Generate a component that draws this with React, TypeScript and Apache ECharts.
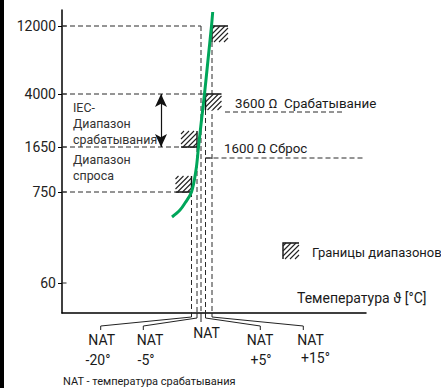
import React, { useEffect, useRef } from "react";
import * as echarts from "echarts";

// Schematic resistance axis (Ω): tick labels and their schematic heights
const resistanceTicks = ["60", "750", "1650", "4000", "12000"];
const resistanceLevels = [30, 121, 166, 219, 287];

// NAT reference temperatures (schematic temperature axis)
const natOffsets = ["-20°", "-5°", "", "+5°", "+15°"];
const natLevels = [129.5, 135, 139, 143.5, 150];

// PTC characteristic curve (schematic temperature, schematic resistance)
const curveT = [110, 118, 123, 129.5, 134, 136.5, 139.5, 142.5, 146, 149.5, 150.7];
const curveR = [96, 103, 110, 121, 143, 166, 193, 219, 253, 287, 301];

// Range boundaries: NAT index, resistance index, direction (1 = hatch below-right, -1 = above-left)
const boundNat = [4, 3, 1, 0];
const boundRes = [4, 3, 2, 1];
const boundDir = [1, 1, -1, -1];

// Resistance guide lines: which NAT line each resistance level runs to
const guideRes = [4, 3, 2, 1];
const guideNat = [2, 3, 1, 0];
// Top of each NAT vertical guide (resistance index)
const natTopRes = [1, 2, 4, 3, 4];

// Trip / reset thresholds
const thresholdLabels = ["3600 Ω  Срабатывание", "1600 Ω Сброс"];
const thresholdLevels = [201, 155];
const thresholdStart = [163, 143.5];
const thresholdEnd = [281, 301];

const FONT = "Roboto, 'Open Sans', sans-serif";
const INK = "#1a1a1a";

function hatchSegments(L: number, T: number, s: number, step: number) {
  const segs: number[][] = [];
  for (let c = L + T + 3; c < L + T + 2 * s - 1; c += step) {
    const x1 = Math.max(L, c - (T + s));
    const x2 = Math.min(L + s, c - T);
    if (x2 > x1) segs.push([x1, c - x1, x2, c - x2]);
  }
  return segs;
}

export default function App() {
  const ref = useRef<HTMLDivElement>(null);
  useEffect(() => {
    if (!ref.current) return;
    const chart = echarts.init(ref.current, null, { renderer: "svg" });

    const guides: number[][] = [];
    guideRes.forEach((ri, k) => {
      guides.push([0, resistanceLevels[ri], natLevels[guideNat[k]], resistanceLevels[ri], 1]);
    });
    natLevels.forEach((x, i) => {
      guides.push([x, resistanceLevels[natTopRes[i]], x, 0, 1]);
    });
    thresholdLevels.forEach((y, i) => {
      guides.push([thresholdStart[i], y, thresholdEnd[i], y, 1]);
    });
    guides.push([natLevels[3], thresholdLevels[1], natLevels[4], thresholdLevels[1], 0]);
    resistanceLevels.forEach((y) => guides.push([0, y, 4.5, y, 0]));

    const bounds = boundNat.map((ni, k) => [natLevels[ni], resistanceLevels[boundRes[k]], boundDir[k]]);

    const natLabelX = [39.7, 88, 144.5, 198, 248.5];
    const degLabelX = [36, 84, 0, 199, 253.5];
    const elbowX = [38.7, 81.3, 0, 198.3, 241.3];
    const bendY = [-4, -5, -9, -5, -4];

    const legend = hatchSegments(283, 243, 16, 5);

    chart.setOption({
      animation: false,
      grid: { left: 62, top: 10, right: 75, bottom: 75 },
      xAxis: {
        type: "value",
        min: 0,
        max: 304,
        axisLine: { show: true, onZero: false, lineStyle: { color: "#000", width: 1.5 } },
        axisTick: { show: false },
        axisLabel: { show: false },
        splitLine: { show: false },
      },
      yAxis: {
        type: "value",
        min: 0,
        max: 303,
        axisLine: { show: true, onZero: false, lineStyle: { color: "#000", width: 1.5 } },
        axisTick: { show: true, customValues: resistanceLevels, length: 4, lineStyle: { color: "#000", width: 1 } },
        axisLabel: {
          customValues: resistanceLevels,
          formatter: (v: number) => {
            const i = resistanceLevels.indexOf(v);
            return i >= 0 ? resistanceTicks[i] : "";
          },
          fontFamily: FONT,
          fontSize: 14,
          color: "#222",
          margin: 6,
        },
        splitLine: { show: false },
      },
      series: [
        {
          type: "custom",
          name: "guides",
          clip: false,
          z: 2,
          data: guides,
          encode: { x: [0, 2], y: [1, 3] },
          renderItem: (_p: any, api: any) => {
            const a = api.coord([api.value(0), api.value(1)]);
            const b = api.coord([api.value(2), api.value(3)]);
            const dashed = api.value(4) === 1;
            return {
              type: "line",
              shape: { x1: a[0], y1: a[1], x2: b[0], y2: b[1] },
              style: { stroke: "#2a2a2a", lineWidth: 1, lineDash: dashed ? [5, 3] : null },
            };
          },
        },
        {
          type: "custom",
          name: "bounds",
          clip: false,
          z: 3,
          data: bounds,
          renderItem: (_p: any, api: any) => {
            const p = api.coord([api.value(0), api.value(1)]);
            const dir = api.value(2);
            const s = 16;
            const L = dir > 0 ? p[0] : p[0] - s;
            const T = dir > 0 ? p[1] : p[1] - s;
            const edge =
              dir > 0
                ? [[L + s, T], [L, T], [L, T + s]]
                : [[L, T + s], [L + s, T + s], [L + s, T]];
            const children: any[] = [
              { type: "rect", shape: { x: L, y: T, width: s, height: s }, style: { fill: "#fff" } },
              { type: "polyline", shape: { points: edge }, style: { stroke: "#111", lineWidth: 1.4, fill: null } },
            ];
            hatchSegments(L, T, s, 5).forEach((g) =>
              children.push({
                type: "line",
                shape: { x1: g[0], y1: g[1], x2: g[2], y2: g[3] },
                style: { stroke: "#222", lineWidth: 1.1 },
              })
            );
            return { type: "group", children };
          },
        },
        {
          type: "custom",
          name: "nat",
          clip: false,
          z: 3,
          data: natLevels.map((x) => [x, 0]),
          renderItem: (p: any, api: any) => {
            const i = p.dataIndex;
            const x = api.value(0);
            const top = api.coord([x, 0]);
            const children: any[] = [];
            if (natOffsets[i] === "") {
              const bot = api.coord([x, bendY[i]]);
              children.push({
                type: "line",
                shape: { x1: top[0], y1: top[1], x2: bot[0], y2: bot[1] },
                style: { stroke: "#222", lineWidth: 1 },
              });
              const t = api.coord([natLabelX[i], -20]);
              children.push({
                type: "text",
                style: { text: "NAT", x: t[0], y: t[1], align: "center", verticalAlign: "middle", font: `14px ${FONT}`, fill: INK },
              });
            } else {
              const b = api.coord([x, bendY[i]]);
              const e = api.coord([elbowX[i], -13]);
              const f = api.coord([elbowX[i], -17]);
              children.push({
                type: "polyline",
                shape: { points: [top, b, e, f] },
                style: { stroke: "#222", lineWidth: 1, fill: null },
              });
              const t = api.coord([natLabelX[i], -27]);
              children.push({
                type: "text",
                style: { text: "NAT", x: t[0], y: t[1], align: "center", verticalAlign: "middle", font: `14px ${FONT}`, fill: INK },
              });
              const d = api.coord([degLabelX[i], i === 4 ? -45 : -47]);
              children.push({
                type: "text",
                style: { text: natOffsets[i], x: d[0], y: d[1], align: "center", verticalAlign: "middle", font: `14px ${FONT}`, fill: INK },
              });
            }
            return { type: "group", children };
          },
        },
        {
          type: "line",
          name: "PTC",
          data: curveT.map((t, i) => [t, curveR[i]]),
          smooth: 0.35,
          showSymbol: false,
          symbol: "none",
          z: 5,
          lineStyle: { color: "#00a65a", width: 3 },
          markLine: {
            silent: true,
            symbol: ["arrow", "arrow"],
            symbolSize: [9, 13],
            label: { show: false },
            lineStyle: { color: "#111", type: "solid", width: 1.2 },
            data: [[{ coord: [99, resistanceLevels[3]] }, { coord: [99, resistanceLevels[2]] }]],
          },
        },
      ],
      graphic: [
        { type: "rect", left: 0, top: 0, shape: { width: 4, height: 388 }, style: { fill: "#000" } },
        {
          type: "text",
          x: 73,
          y: 99,
          style: { text: "IEC-\nДиапазон\nсрабатывания", font: `12.4px ${FONT}`, lineHeight: 16, fill: "#333" },
        },
        {
          type: "text",
          x: 73,
          y: 152,
          style: { text: "Диапазон\nспроса", font: `12.4px ${FONT}`, lineHeight: 15.5, fill: "#333" },
        },
        {
          type: "text",
          x: 235,
          y: 103,
          style: { text: thresholdLabels[0], font: `13.4px ${FONT}`, fill: INK, verticalAlign: "middle" },
        },
        {
          type: "text",
          x: 224,
          y: 148,
          style: { text: thresholdLabels[1], font: `13.3px ${FONT}`, fill: INK, verticalAlign: "middle" },
        },
        {
          type: "group",
          children: [
            { type: "polyline", shape: { points: [[299, 243], [283, 243], [283, 259]] }, style: { stroke: "#111", lineWidth: 1.4, fill: null } },
            ...legend.map((g) => ({
              type: "line",
              shape: { x1: g[0], y1: g[1], x2: g[2], y2: g[3] },
              style: { stroke: "#222", lineWidth: 1.1 },
            })),
          ],
        },
        {
          type: "text",
          x: 312,
          y: 252,
          style: { text: "Границы диапазонов", font: `13px ${FONT}`, fill: INK, verticalAlign: "middle" },
        },
        {
          type: "text",
          x: 297,
          y: 298,
          style: { text: "Темепература ϑ [°C]", font: `14px ${FONT}`, fill: INK, verticalAlign: "middle" },
        },
        {
          type: "text",
          x: 63,
          y: 381,
          style: { text: "NAT - температура срабатывания", font: `11px ${FONT}`, fill: INK, verticalAlign: "middle" },
        },
      ],
    });
    return () => chart.dispose();
  }, []);
  return <div ref={ref} style={{ position: "absolute", left: 0, top: 0, width: 441, height: 388 }} />;
}
